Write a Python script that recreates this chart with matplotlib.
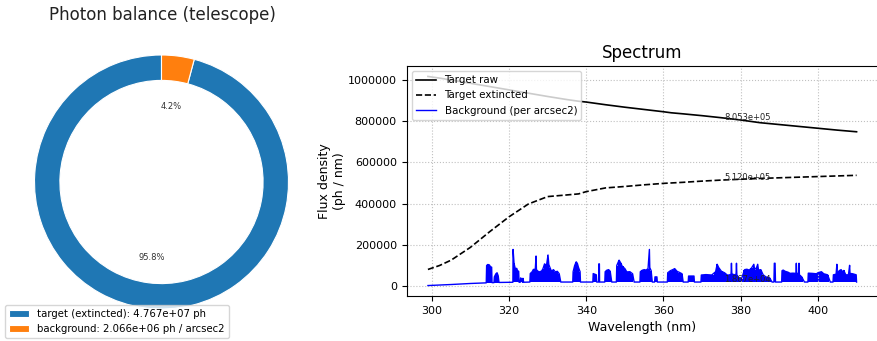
import numpy as np
import matplotlib
matplotlib.use('Agg')
import matplotlib.pyplot as plt

# Photon balance (pie)
pie_labels = ['target (extincted)', 'background']
pie_units = ['ph', 'ph / arcsec2']
pie_values = [4.767e7, 2.066e6]
pie_colors = ['#1f77b4', '#ff7f0e']

# Target spectra (ph / nm)
wl = [299, 302, 305, 310, 315, 320, 325, 330, 335, 338, 340, 345, 350, 355, 360, 362,
      365, 370, 375, 380, 385, 390, 395, 400, 405, 410]
target_raw = [1016000, 1008000, 999000, 983000, 967000, 951000, 935000, 919000, 904000,
              896000, 892000, 879000, 867000, 856000, 845000, 840000, 835000, 826000,
              816000, 805000, 792000, 783000, 774000, 765000, 756000, 748000]
target_ext = [81000, 100000, 126000, 188000, 264000, 336000, 398000, 434000, 442000,
              447000, 458000, 476000, 483000, 491000, 498000, 500000, 503000, 509000,
              514000, 518000, 522000, 525000, 528000, 531000, 534000, 537000]

# Background continuum (ph / nm, x1000)
cont_wl = [299, 305, 310, 314, 320, 330, 410]
cont_flux = [3, 8, 13, 16, 19, 20, 20]

# Background with sky emission lines (ph / nm, x1000)
bg_wl = [299, 305, 310, 314.0,
         314.1, 314.2, 314.5, 314.9, 315.2, 315.5, 315.6,
         316.1, 316.2, 316.6, 316.9, 317.2, 317.4,
         321.0, 321.05, 321.3, 321.6, 322.0, 322.2, 322.5, 322.6,
         322.9, 323.0, 323.3, 323.5, 323.6, 323.8,
         325.4, 325.5, 326.0, 326.3, 326.8, 327.0, 327.1, 327.5, 328.0, 328.5, 328.8,
         329.2, 329.7, 330.1, 330.3, 330.6, 331.0, 331.5, 332.0, 332.5, 333.0, 333.4,
         336.5, 336.6, 337.0, 337.4, 337.7, 338.0, 338.4, 338.5,
         341.7, 341.8, 342.2, 342.6, 342.7,
         343.2, 343.25, 343.4, 343.45,
         344.8, 344.9, 345.3, 345.8, 346.2, 346.6,
         347.8, 347.9, 348.5, 349.0, 349.3, 350.0, 350.5, 351.3, 352.0, 352.4,
         353.9, 354.0, 354.5, 355.0, 355.5, 356.0, 356.35, 356.45, 356.8, 357.1,
         357.7, 357.8, 358.3, 358.4,
         361.0, 361.1, 361.8, 362.4, 362.9, 363.5, 364.2, 364.8, 365.1,
         366.4, 366.5, 367.9, 368.0,
         369.7, 369.8, 371.0, 372.5, 373.5, 373.9, 374.3, 375.0, 375.8, 376.5, 377.0,
         377.5, 377.6, 377.7, 378.3, 378.8, 378.9, 379.0, 379.5, 380.2, 381.0, 381.6,
         382.2, 382.8, 383.4, 383.6, 384.1, 384.4, 384.6, 385.2, 385.8, 386.5, 387.5, 388.1,
         388.6, 388.7, 388.9, 389.0,
         390.6, 390.7, 391.0, 391.5, 392.2, 392.8, 393.5, 394.3, 394.4, 394.5, 395.0,
         395.1, 395.2, 395.8, 396.5,
         397.4, 397.5, 398.5, 399.6, 400.0, 400.5, 400.9, 401.5, 402.5, 403.2,
         403.9, 404.0, 404.7, 404.9, 405.0, 405.5, 406.0, 406.3, 406.7, 407.2, 407.9,
         408.2, 408.3, 409.0, 409.9, 410.0]
bg_flux = [3, 8, 13, 16,
           16, 100, 105, 103, 94, 92, 17,
           17, 45, 60, 65, 50, 18,
           19, 178, 110, 86, 86, 75, 72, 19,
           19, 40, 35, 19, 38, 19,
           20, 61, 70, 81, 82, 146, 80, 72, 69, 75, 85,
           108, 100, 151, 105, 90, 72, 80, 69, 72, 60, 20,
           20, 70, 100, 118, 110, 90, 70, 20,
           20, 61, 58, 55, 20,
           20, 108, 108, 20,
           20, 70, 77, 80, 72, 20,
           20, 100, 126, 110, 97, 85, 69, 70, 60, 20,
           20, 70, 77, 80, 78, 85, 178, 90, 75, 20,
           20, 45, 45, 20,
           20, 65, 75, 80, 85, 72, 66, 60, 20,
           20, 49, 49, 20,
           20, 54, 56, 54, 70, 106, 90, 72, 65, 54, 54,
           58, 111, 60, 55, 58, 111, 55, 40, 35, 80, 82,
           78, 88, 106, 80, 90, 106, 78, 80, 55, 45, 40, 20,
           20, 111, 111, 20,
           20, 75, 78, 72, 68, 62, 63, 62, 111, 62, 62,
           111, 55, 45, 20,
           20, 63, 62, 60, 65, 68, 70, 60, 55, 20,
           20, 55, 58, 106, 60, 75, 80, 70, 76, 55, 55,
           101, 62, 60, 55, 20]

# annotations (wavelength, value)
annot_wl = 375.8
annot_vals = [8.053e5, 5.120e5, 1.867e4]

fig = plt.figure(figsize=(8.77, 3.41), dpi=100)

# ---- pie ----
ax1 = fig.add_axes([2.75 / 877, 0.25 / 341, 317.5 / 877, 317.5 / 341])
wedges, texts, autotexts = ax1.pie(pie_values, colors=pie_colors, startangle=90,
                                   autopct='%1.1f%%', pctdistance=0.6,
                                   wedgeprops=dict(width=0.2, edgecolor='white', linewidth=0.8),
                                   textprops=dict(fontsize=6, color='#333333'))
ax1.set_xlim(-1.25, 1.25)
ax1.set_ylim(-1.25, 1.25)
fig.text(162 / 877, 1 - 20 / 341, 'Photon balance (telescope)', ha='center',
         va='baseline', fontsize=12, color='#222222')
leg_labels = ['%s: %.3e %s' % (l, v, u) for l, v, u in zip(pie_labels, pie_values, pie_units)]
fig.legend(wedges, leg_labels, loc='lower left', bbox_to_anchor=(5 / 877, 3 / 341),
           borderaxespad=0, fontsize=7.3)

# ---- spectrum ----
ax2 = fig.add_axes([406.5 / 877, 45 / 341, 471.5 / 877, 230 / 341])
ax2.plot(wl, target_raw, color='black', lw=1.2, label='Target raw')
ax2.plot(wl, target_ext, color='black', lw=1.2, ls='--', label='Target extincted')
bg_w = np.array(bg_wl)
bg_f = np.array(bg_flux) * 1000.0
floor = np.interp(bg_w, cont_wl, np.array(cont_flux) * 1000.0)
ax2.fill_between(bg_w, floor, bg_f, step='mid', color='blue', lw=0)
ax2.plot(bg_w, bg_f, color='blue', lw=1.0, label='Background (per arcsec2)')

for v in annot_vals:
    ax2.text(annot_wl, v, '%.3e' % v, fontsize=6, color='#222222')

ax2.set_title('Spectrum', fontsize=12)
ax2.set_xlabel('Wavelength (nm)', fontsize=9)
ax2.set_ylabel('Flux density\n(ph / nm)', fontsize=9, labelpad=1)
ax2.ticklabel_format(style='plain', axis='y')
ax2.tick_params(labelsize=8)
ax2.grid(True, ls=':', color='#c0c0c0', lw=0.8)
ax2.legend(loc='upper left', fontsize=7.4)

plt.savefig('out.png', dpi=100)
plt.close()
